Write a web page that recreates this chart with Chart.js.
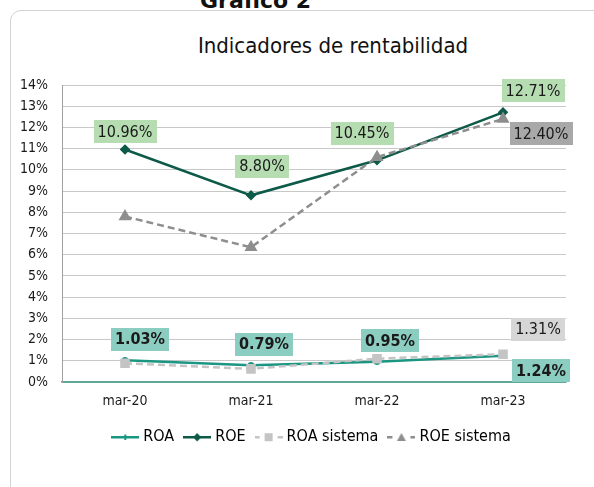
<!DOCTYPE html>
<html>
<head>
<meta charset="utf-8">
<script src="https://cdn.jsdelivr.net/npm/chart.js@4.4.1/dist/chart.umd.min.js"></script>
<style>
  html, body { margin: 0; padding: 0; background: #ffffff; }
  #wrap { position: relative; width: 594px; height: 487px; overflow: hidden; background: #fff; }
  #frame { position: absolute; left: 10px; top: 10px; width: 620px; height: 520px;
           border: 1.5px solid #d2d2d2; border-radius: 11px; box-sizing: border-box; }
  #sup { position: absolute; left: 200px; top: -12px; font: bold 22px 'DejaVu Sans', sans-serif; color: #111; white-space: nowrap; }
  #title { position: absolute; left: 0; width: 666px; top: 33px; text-align: center;
           font: 22px 'DejaVu Sans Condensed', 'DejaVu Sans', sans-serif; color: #111; white-space: nowrap; }
  canvas { position: absolute; left: 0; top: 0; }
</style>
</head>
<body>
<div id="wrap">
  <div id="frame"></div>
  <div id="sup">Gráfico 2</div>
  <div id="title">Indicadores de rentabilidad</div>
  <canvas id="c" width="594" height="487"></canvas>
</div>
<script>
// ---- data ----
const categories = ['mar-20', 'mar-21', 'mar-22', 'mar-23'];
const roa = [1.03, 0.79, 0.95, 1.24];
const roe = [10.96, 8.80, 10.45, 12.71];
const roaSistema = [0.88, 0.62, 1.10, 1.31];
const roeSistema = [7.80, 6.35, 10.60, 12.40];
const yTicks = [0, 1, 2, 3, 4, 5, 6, 7, 8, 9, 10, 11, 12, 13, 14];
const seriesNames = ['ROA', 'ROE', 'ROA sistema', 'ROE sistema'];

const FONT = "'DejaVu Sans Condensed', 'DejaVu Sans', sans-serif";
const C_ROA = '#1a9682', C_ROE = '#0d5a48', C_ROAS = '#c4c4c4', C_ROES = '#8e8e8e';

// label style config (index -> offset in px, box colour)
const labelCfg = [
  { bg: '#8ccdc2', bold: true, items: { 0: [15, -21], 1: [13, -21], 2: [13, -21], 3: [38, 15] } },
  { bg: '#b5ddb1', bold: false, items: { 0: [0, -18], 1: [11, -29], 2: [-15, -27], 3: [30, -22] } },
  { bg: '#d6d6d6', bold: false, items: { 3: [35, -25] } },
  { bg: '#a8a8a8', bold: false, items: { 3: [38, 15] } }
];

function legendImg(color, dashed, marker) {
  const c = document.createElement('canvas');
  c.width = 28; c.height = 14;
  const g = c.getContext('2d');
  g.strokeStyle = color; g.fillStyle = color; g.lineWidth = 2.5;
  if (dashed) {
    g.fillRect(0, 6, 5, 2.5); g.fillRect(23, 6, 5, 2.5);
  } else {
    g.beginPath(); g.moveTo(0, 7.25); g.lineTo(28, 7.25); g.stroke();
  }
  g.beginPath();
  if (marker === 'diamond') { g.moveTo(14, 3); g.lineTo(18, 7.25); g.lineTo(14, 11.5); g.lineTo(10, 7.25); g.closePath(); g.fill(); }
  else if (marker === 'plus') { g.fillRect(13, 4.5, 2, 5.5); }
  else if (marker === 'square') { g.fillRect(10, 3.25, 8, 8); }
  else if (marker === 'tri') { g.moveTo(14, 3); g.lineTo(18.5, 11); g.lineTo(9.5, 11); g.closePath(); g.fill(); }
  return c;
}
const legendImgs = [
  legendImg(C_ROA, false, 'plus'),
  legendImg(C_ROE, false, 'diamond'),
  legendImg(C_ROAS, true, 'square'),
  legendImg(C_ROES, true, 'tri')
];

const labelPlugin = {
  id: 'boxLabels',
  afterDatasetsDraw(chart) {
    const ctx = chart.ctx;
    chart.data.datasets.forEach((ds, di) => {
      const cfg = labelCfg[di];
      const meta = chart.getDatasetMeta(di);
      ctx.save();
      ctx.font = (cfg.bold ? 'bold ' : '') + '16px ' + FONT;
      ctx.textAlign = 'center';
      ctx.textBaseline = 'middle';
      Object.keys(cfg.items).forEach(k => {
        const i = +k;
        const pt = meta.data[i];
        const [dx, dy] = cfg.items[k];
        const cx = pt.x + dx, cy = pt.y + dy;
        const txt = ds.data[i].toFixed(2) + '%';
        const w = ctx.measureText(txt).width + 8;
        const h = 23;
        ctx.fillStyle = cfg.bg;
        ctx.fillRect(Math.round(cx - w / 2), Math.round(cy - h / 2), Math.round(w), h);
        ctx.fillStyle = '#1a1a1a';
        ctx.fillText(txt, cx, cy + 1);
      });
      ctx.restore();
    });
  }
};

new Chart(document.getElementById('c'), {
  type: 'line',
  data: {
    labels: categories,
    datasets: [
      { label: seriesNames[0], data: roa, borderColor: C_ROA, backgroundColor: C_ROA, borderWidth: 2.5,
        pointStyle: 'circle', pointRadius: 2, order: 1 },
      { label: seriesNames[1], data: roe, borderColor: C_ROE, backgroundColor: C_ROE, borderWidth: 2.5,
        pointStyle: 'rectRot', pointRadius: 3.5, order: 1 },
      { label: seriesNames[2], data: roaSistema, borderColor: C_ROAS, backgroundColor: C_ROAS, borderWidth: 2.5,
        borderDash: [7, 4], pointStyle: 'rect', pointRadius: 5, order: 0 },
      { label: seriesNames[3], data: roeSistema, borderColor: C_ROES, backgroundColor: C_ROES, borderWidth: 2.5,
        borderDash: [7, 4], pointStyle: 'triangle', pointRadius: 5, order: 0 }
    ]
  },
  options: {
    responsive: false,
    animation: false,
    devicePixelRatio: 1,
    layout: { padding: { top: 85, left: 14, right: -18, bottom: 32 } },
    elements: { line: { tension: 0 }, point: { borderWidth: 0, hoverRadius: 4 } },
    scales: {
      x: {
        type: 'category', offset: true,
        grid: { display: false, drawTicks: false },
        border: { display: true, color: '#5fa89a', width: 1.5 },
        ticks: { padding: 11, color: '#1a1a1a', font: { family: FONT, size: 14 } },
        afterFit(s) { s.height = 34; }
      },
      y: {
        min: 0, max: 14,
        afterBuildTicks(s) { s.ticks = yTicks.map(v => ({ value: v })); },
        grid: { drawTicks: false, color: ctx => ctx.tick && ctx.tick.value === 0 ? '#5fa89a' : '#c8c8c8', lineWidth: 1 },
        border: { display: true, color: '#a0a0a0', width: 1 },
        ticks: { padding: 14, color: '#1a1a1a', font: { family: FONT, size: 14 }, callback: v => v + '%' },
        afterFit(s) { s.width = 48; }
      },
      y2: {
        position: 'right', display: true,
        grid: { display: false, drawTicks: false }, border: { display: false },
        ticks: { display: false },
        afterFit(s) { s.width = 46; }
      }
    },
    plugins: {
      title: { display: false },
      tooltip: { enabled: false },
      legend: {
        display: true, position: 'bottom',
        labels: {
          usePointStyle: true, pointStyleWidth: 20, padding: 13, color: '#1a1a1a',
          font: { family: FONT, size: 16 },
          generateLabels(chart) {
            return chart.data.datasets.map((ds, i) => ({
              text: ds.label, datasetIndex: i, pointStyle: legendImgs[i],
              fillStyle: ds.borderColor, strokeStyle: ds.borderColor, lineWidth: 0, hidden: false
            }));
          }
        }
      }
    }
  },
  plugins: [labelPlugin]
});
</script>
</body>
</html>
